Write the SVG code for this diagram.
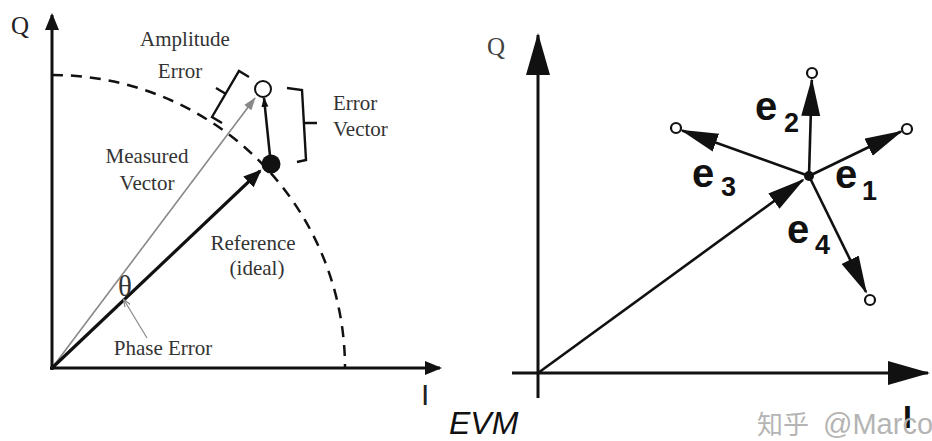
<svg xmlns="http://www.w3.org/2000/svg" width="932" height="441" viewBox="0 0 932 441">
<defs>
<style>
.serif{font-family:"Liberation Serif","Times New Roman",serif;fill:#333;font-size:21px}
.qlab{font-family:"Liberation Serif","Times New Roman",serif;font-size:25px}
.theta{font-family:"Liberation Serif","Times New Roman",serif;font-size:29px;fill:#333}
.ax{stroke:#111;stroke-width:3;fill:none}
.bl{stroke:#111;fill:none}
.lbl{font-family:"Liberation Sans",Arial,sans-serif;font-weight:bold;fill:#111}
.ee{font-size:40px}
.sub{font-size:27px}
</style>
<marker id="ahL" markerUnits="userSpaceOnUse" markerWidth="20" markerHeight="20" refX="15" refY="7" orient="auto"><path d="M0,0 L17,7 L0,14 z" fill="#111"/></marker>
<marker id="ahRef" markerUnits="userSpaceOnUse" markerWidth="22" markerHeight="20" refX="16" refY="7.5" orient="auto"><path d="M0,0 L18,7.5 L0,15 z" fill="#111"/></marker>
<marker id="ahGray" markerUnits="userSpaceOnUse" markerWidth="16" markerHeight="12" refX="12" refY="4.5" orient="auto"><path d="M0,0 L13,4.5 L0,9 z" fill="#888"/></marker>
<marker id="ahSmall" markerUnits="userSpaceOnUse" markerWidth="12" markerHeight="10" refX="9" refY="3.5" orient="auto"><path d="M0,0 L10,3.5 L0,7 z" fill="#111"/></marker>
<marker id="ahThin" markerUnits="userSpaceOnUse" markerWidth="10" markerHeight="10" refX="7" refY="3" orient="auto"><path d="M0,0 L8,3 L0,6" fill="none" stroke="#888" stroke-width="1.2"/></marker>
<marker id="ahAxisR" markerUnits="userSpaceOnUse" markerWidth="46" markerHeight="26" refX="40" refY="12" orient="auto"><path d="M0,0 L42,12 L0,24 z" fill="#111"/></marker>
<marker id="ahE" markerUnits="userSpaceOnUse" markerWidth="42" markerHeight="22" refX="36" refY="9.5" orient="auto"><path d="M0,0 L38,9.5 L0,19 z" fill="#111"/></marker>
</defs>
<rect width="932" height="441" fill="#fff"/>

<g id="connectors">
  <!-- left panel -->
  <line class="ax" x1="52" y1="370" x2="52" y2="15" marker-end="url(#ahL)"/>
  <line class="ax" x1="50" y1="368" x2="440" y2="368" marker-end="url(#ahL)"/>
  <path d="M52,75 A293,293 0 0 1 345,368" fill="none" stroke="#111" stroke-width="2.5" stroke-dasharray="11 8"/>
  <line x1="52" y1="368" x2="255" y2="98" stroke="#888" stroke-width="1.6" marker-end="url(#ahGray)"/>
  <line x1="52" y1="368" x2="260" y2="171" stroke="#111" stroke-width="3.2" marker-end="url(#ahRef)"/>
  <line x1="270" y1="156" x2="264" y2="98" stroke="#111" stroke-width="2.5" marker-end="url(#ahSmall)"/>
  <path class="bl" stroke-width="2.4" d="M249,77 L239,71 L212,117 L222,123 M226,94 L216,88"/>
  <path class="bl" stroke-width="2.4" d="M287,88 L302,90 L306,160 L297,162 M304,123 L317,123"/>
  <line x1="147" y1="338" x2="124" y2="300" stroke="#888" stroke-width="1.2" marker-end="url(#ahThin)"/>
  <!-- right panel -->
  <line class="ax" x1="538" y1="398" x2="538" y2="35" marker-end="url(#ahAxisR)"/>
  <line class="ax" x1="512" y1="373" x2="928" y2="373" marker-end="url(#ahAxisR)"/>
  <line x1="538" y1="373" x2="803" y2="180" stroke="#111" stroke-width="2.6" marker-end="url(#ahE)"/>
  <line x1="809" y1="176" x2="901" y2="131.5" stroke="#111" stroke-width="2.6" marker-end="url(#ahE)"/>
  <line x1="809" y1="176" x2="811.8" y2="80" stroke="#111" stroke-width="2.6" marker-end="url(#ahE)"/>
  <line x1="809" y1="176" x2="682" y2="130.5" stroke="#111" stroke-width="2.6" marker-end="url(#ahE)"/>
  <line x1="809" y1="176" x2="866" y2="292" stroke="#111" stroke-width="2.6" marker-end="url(#ahE)"/>
</g>

<g id="left-points">
  <circle cx="263" cy="89" r="8" fill="#fff" stroke="#111" stroke-width="2"/>
  <circle cx="271" cy="164" r="9.5" fill="#111"/>
</g>
<g id="right-points">
  <circle cx="809" cy="176" r="5" fill="#111"/>
  <circle cx="907" cy="129" r="5" fill="#fff" stroke="#111" stroke-width="2.2"/>
  <circle cx="812" cy="73" r="5" fill="#fff" stroke="#111" stroke-width="2.2"/>
  <circle cx="676" cy="128" r="5" fill="#fff" stroke="#111" stroke-width="2.2"/>
  <circle cx="870" cy="300" r="5" fill="#fff" stroke="#111" stroke-width="2.2"/>
</g>

<g id="left-labels">
  <text class="qlab" x="11" y="34" fill="#222">Q</text>
  <text x="421" y="405" font-family="Liberation Sans, Arial, sans-serif" font-size="30" fill="#222">I</text>
  <text class="serif" x="185" y="46" text-anchor="middle">Amplitude</text>
  <text class="serif" x="180" y="78" text-anchor="middle">Error</text>
  <text class="serif" x="333" y="110">Error</text>
  <text class="serif" x="333" y="136">Vector</text>
  <text class="serif" x="147" y="163" text-anchor="middle">Measured</text>
  <text class="serif" x="147" y="190" text-anchor="middle">Vector</text>
  <text class="serif" x="253" y="250" text-anchor="middle">Reference</text>
  <text class="serif" x="257" y="275" text-anchor="middle">(ideal)</text>
  <text class="theta" x="125" y="296" text-anchor="middle">θ</text>
  <text class="serif" x="163" y="355" text-anchor="middle">Phase Error</text>
</g>

<g id="right-labels">
  <text class="qlab" x="487" y="55" fill="#444">Q</text>
  <text x="903" y="428" font-family="Liberation Sans, Arial, sans-serif" font-weight="bold" font-size="32" fill="#111">I</text>
  <text class="lbl ee" x="835" y="188">e</text><text class="lbl sub" x="862" y="200">1</text>
  <text class="lbl ee" x="755" y="120">e</text><text class="lbl sub" x="784" y="132">2</text>
  <text class="lbl ee" x="692" y="187">e</text><text class="lbl sub" x="721" y="196">3</text>
  <text class="lbl ee" x="787" y="243">e</text><text class="lbl sub" x="815" y="254">4</text>
</g>

<g id="caption">
  <text x="449" y="434" font-family="Liberation Sans, Arial, sans-serif" font-style="italic" font-size="32" fill="#111">EVM</text>
  <text x="757" y="434" font-family="Liberation Sans, 'Noto Sans CJK SC', sans-serif" font-size="26" fill="#b4b4b4">知乎 <tspan x="823" font-size="29">@Marco</tspan></text>
</g>
</svg>
